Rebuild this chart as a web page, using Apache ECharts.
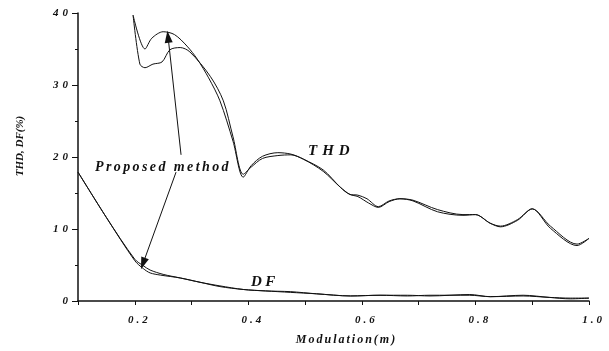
<!DOCTYPE html>
<html>
<head>
<meta charset="utf-8">
<script src="https://cdn.jsdelivr.net/npm/echarts@6/dist/echarts.min.js"></script>
<style>
html,body{margin:0;padding:0;background:#fff;}
#c{width:609px;height:351px;}
</style>
</head>
<body>
<div id="c"></div>
<script>
// Modulation index (x) and values (%)
var thdA_m = [0.197, 0.218, 0.230, 0.250, 0.270, 0.292, 0.310, 0.330, 0.350, 0.373, 0.391, 0.405, 0.425, 0.452, 0.475, 0.497, 0.532, 0.562, 0.579, 0.593, 0.609, 0.629, 0.648, 0.667, 0.690, 0.733, 0.778, 0.800, 0.826, 0.844, 0.874, 0.900, 0.932, 0.979, 1.000];
var thdA_v = [39.7, 35.0, 36.5, 37.4, 37.0, 35.4, 33.6, 31.0, 27.8, 22.2, 17.2, 18.8, 20.1, 20.6, 20.4, 19.7, 18.2, 15.8, 14.8, 14.7, 14.2, 13.1, 13.9, 14.2, 14.0, 12.7, 12.0, 12.0, 10.8, 10.4, 11.3, 12.8, 10.4, 7.9, 8.7];

var thdB_m = [0.197, 0.209, 0.218, 0.232, 0.248, 0.262, 0.280, 0.297, 0.333, 0.356, 0.373, 0.391, 0.405, 0.425, 0.452, 0.475, 0.497, 0.532, 0.562, 0.579, 0.593, 0.612, 0.629, 0.648, 0.667, 0.690, 0.733, 0.778, 0.800, 0.826, 0.844, 0.874, 0.900, 0.932, 0.979, 1.000];
var thdB_v = [39.7, 32.9, 32.4, 32.9, 33.2, 34.9, 35.2, 34.6, 31.2, 27.8, 22.8, 17.6, 18.6, 19.8, 20.2, 20.3, 19.7, 18.0, 15.8, 14.8, 14.5, 13.6, 13.0, 13.8, 14.2, 13.9, 12.4, 11.9, 12.0, 10.8, 10.3, 11.2, 12.8, 10.1, 7.7, 8.7];

var dfA_m = [0.100, 0.150, 0.200, 0.215, 0.227, 0.250, 0.280, 0.315, 0.350, 0.391, 0.430, 0.474, 0.520, 0.580, 0.632, 0.680, 0.720, 0.790, 0.826, 0.884, 0.930, 0.967, 1.000];
var dfA_v = [17.9, 11.6, 5.8, 4.9, 4.3, 3.7, 3.2, 2.6, 2.1, 1.6, 1.4, 1.3, 1.0, 0.7, 0.8, 0.8, 0.7, 0.9, 0.6, 0.8, 0.5, 0.3, 0.4];

var dfB_m = [0.100, 0.150, 0.200, 0.215, 0.227, 0.245, 0.280, 0.315, 0.350, 0.391, 0.430, 0.474, 0.520, 0.580, 0.632, 0.680, 0.720, 0.790, 0.826, 0.884, 0.930, 0.967, 1.000];
var dfB_v = [17.9, 11.6, 5.6, 4.5, 3.9, 3.6, 3.2, 2.6, 2.0, 1.6, 1.4, 1.2, 1.0, 0.7, 0.8, 0.7, 0.8, 0.8, 0.6, 0.7, 0.5, 0.4, 0.4];

// Arrow endpoints (data coordinates)
var arrowUp = [[0.2815, 20.3], [0.2586, 36.7]];
var arrowDown = [[0.2727, 17.9], [0.2145, 5.2]];

var xTicks = [0.2, 0.4, 0.6, 0.8, 1.0];
var yTicks = [0, 10, 20, 30, 40];

function pairs(m, v) { return m.map(function (x, i) { return [x, v[i]]; }); }

// Letter spacing of the scanned typography (applied at draw time; text stays real text)
var SPACING = { 'Proposed method': 2.4, 'THD': 5, 'DF': 3.5, 'Modulation(m)': 2, 'THD, DF(%)': 0 };
(function () {
  var P = CanvasRenderingContext2D.prototype, orig = P.fillText;
  P.fillText = function (t, x, y, w) {
    var s = String(t), ls = 0;
    if (SPACING.hasOwnProperty(s)) ls = SPACING[s];
    else if (/^\d+$/.test(s)) ls = 4;
    else if (/^[\d.]+$/.test(s)) ls = 3;
    var prev = this.letterSpacing;
    if ('letterSpacing' in this) this.letterSpacing = ls + 'px';
    var r = (w === undefined) ? orig.call(this, t, x, y) : orig.call(this, t, x, y, w);
    if ('letterSpacing' in this) this.letterSpacing = prev || '0px';
    return r;
  };
})();

var FONT = '"Liberation Serif", "DejaVu Serif", serif';
var chart = echarts.init(document.getElementById('c'), null, { renderer: 'canvas' });

var lineStyle = { color: '#111', width: 1 };
function mk(name, data, extra) {
  var s = { name: name, type: 'line', data: data, showSymbol: false, smooth: 0.3,
            lineStyle: lineStyle, itemStyle: { color: '#111' }, animation: false };
  if (extra) for (var k in extra) s[k] = extra[k];
  return s;
}

var arrowStyle = { color: '#111', width: 1, type: 'solid' };
var option = {
  backgroundColor: '#fff',
  animation: false,
  grid: { left: 78, right: 20, top: 13, bottom: 45 },
  xAxis: {
    type: 'value', min: 0.1, max: 1.0, interval: 0.1,
    name: 'Modulation(m)', nameLocation: 'middle', nameGap: 33,
    nameTextStyle: { fontFamily: FONT, fontStyle: 'italic', fontWeight: 'bold', fontSize: 12, color: '#111', padding: [0, 0, 0, 26] },
    axisLine: { lineStyle: { color: '#111', width: 1.5 } },
    axisTick: { length: 4, lineStyle: { color: '#111' } },
    splitLine: { show: false },
    axisLabel: {
      fontFamily: FONT, fontStyle: 'italic', fontWeight: 'bold', fontSize: 11, color: '#111', margin: 14,
      padding: [0, 0, 0, 9],
      formatter: function (v) {
        for (var i = 0; i < xTicks.length; i++) if (Math.abs(v - xTicks[i]) < 1e-6) return xTicks[i].toFixed(1);
        return '';
      }
    }
  },
  yAxis: {
    type: 'value', min: 0, max: 40, interval: 10,
    name: 'THD, DF(%)', nameLocation: 'middle', nameGap: 52,
    nameTextStyle: { fontFamily: FONT, fontStyle: 'italic', fontWeight: 'bold', fontSize: 11, color: '#111', padding: [0, 0, 0, 22] },
    axisLine: { show: true, lineStyle: { color: '#111', width: 1.5 } },
    axisTick: { show: true, length: 6, lineStyle: { color: '#111' } },
    minorTick: { show: true, splitNumber: 2, length: 3, lineStyle: { color: '#111' } },
    splitLine: { show: false },
    axisLabel: {
      fontFamily: FONT, fontStyle: 'italic', fontWeight: 'bold', fontSize: 11, color: '#111', margin: 6,
      formatter: function (v) { return yTicks.indexOf(v) >= 0 ? String(v) : ''; }
    }
  },
  series: [
    mk('THD (proposed)', pairs(thdA_m, thdA_v), {
      markLine: {
        silent: true, animation: false, symbol: ['none', 'triangle'], symbolSize: [8, 12],
        lineStyle: arrowStyle, label: { show: false },
        data: [
          [{ coord: arrowUp[0] }, { coord: arrowUp[1] }],
          [{ coord: arrowDown[0] }, { coord: arrowDown[1] }]
        ]
      }
    }),
    mk('THD', pairs(thdB_m, thdB_v)),
    mk('DF (proposed)', pairs(dfA_m, dfA_v)),
    mk('DF', pairs(dfB_m, dfB_v))
  ],
  graphic: [
    { type: 'text', left: 95, top: 160, style: { text: 'Proposed method', font: 'italic bold 14px ' + FONT, fill: '#111' } },
    { type: 'text', left: 308, top: 144, style: { text: 'THD', font: 'italic bold 15px ' + FONT, fill: '#111' } },
    { type: 'text', left: 251, top: 275, style: { text: 'DF', font: 'italic bold 15px ' + FONT, fill: '#111' } }
  ]
};
chart.setOption(option);
</script>
</body>
</html>
